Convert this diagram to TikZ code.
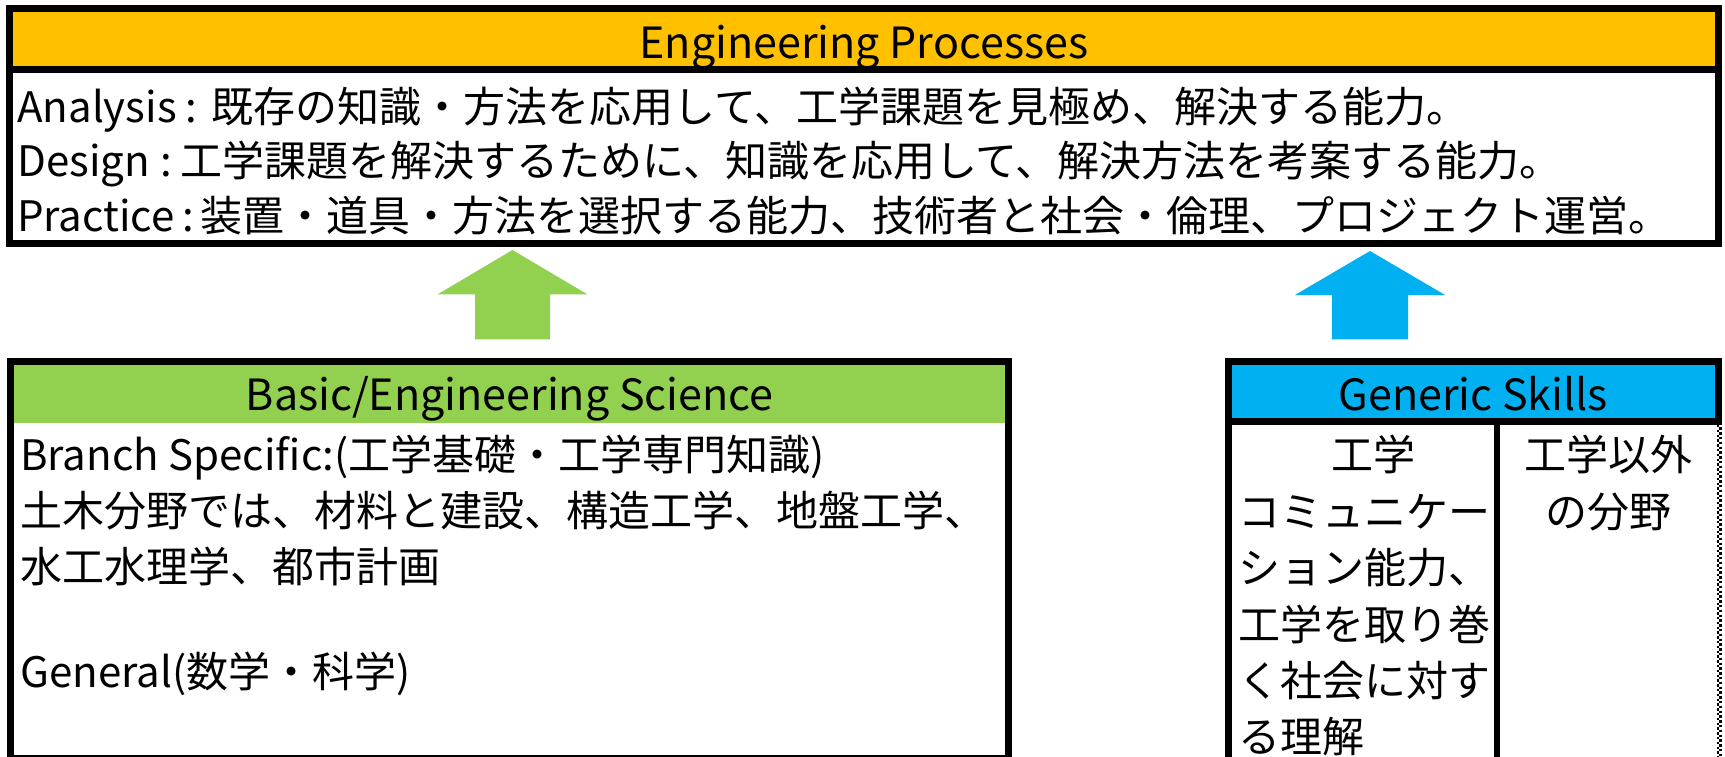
\documentclass[tikz,border=0pt]{standalone}
\usepackage{fontspec}
\setmainfont{Noto Sans CJK JP}
\newfontfamily\hdrfont{Noto Sans CJK JP}
\definecolor{epOrange}{HTML}{FFC000}
\definecolor{bsGreen}{HTML}{92D050}
\definecolor{gsBlue}{HTML}{00B0F0}
\tikzset{
  frame/.style={draw=black, line width=6.7pt},
  sepline/.style={draw=black, line width=6.7pt, line cap=rect},
  hdrtext/.style={anchor=base, inner sep=0pt, font=\hdrfont\fontsize{43}{50}\selectfont},
  toptext/.style={anchor=base west, inner sep=0pt, font=\fontsize{42}{54}\selectfont},
  bodytext/.style={anchor=base west, inner sep=0pt, font=\fontsize{42}{56}\selectfont},
  colctext/.style={anchor=base, inner sep=0pt, font=\fontsize{42}{56}\selectfont},
}
\begin{document}
\begin{tikzpicture}[x=1pt,y=-1pt]
\clip (0,0) rectangle (1725,757);
\fill[white] (0,0) rectangle (1725,757);
% ---------- Engineering Processes ----------
\fill[epOrange] (9.5,8.3) rectangle (1718.3,69.3);
\coordinate (epNW) at (9.5,8.3);
\coordinate (epSE) at (1718.3,243.3);
\draw[frame] (epNW) rectangle (epSE);
\draw[sepline] (9.5,69.3) -- (1718.3,69.3);
\node[hdrtext] (epTitle) at (863.9,59) {Engineering Processes};
\node[toptext] (epA) at (17,123) {Analysis\hspace{.2em}:\hspace{.35em}既存の知識・方法を応用して、工学課題を見極め、解決する能力。};
\node[toptext] (epD) at (17,177) {Design\hspace{.25em}:\hspace{.2em}工学課題を解決するために、知識を応用して、解決方法を考案する能力。};
\node[toptext] (epP) at (17,231) {Practice\hspace{.2em}:\hspace{.15em}装置・道具・方法を選択する能力、技術者と社会・倫理、プロジェクト運営。};
% ---------- arrows ----------
\coordinate (gTip) at (512.5,250);
\fill[bsGreen] (gTip) -- (587.3,294.3) -- (550,294.3) -- (550,339.3) -- (475,339.3) -- (475,294.3) -- (437.7,294.3) -- cycle;
\coordinate (bTip) at (1370,251);
\fill[gsBlue] (bTip) -- (1445,295) -- (1408,295) -- (1408,339.3) -- (1332,339.3) -- (1332,295) -- (1295,295) -- cycle;
% ---------- Basic / Engineering Science ----------
\fill[bsGreen] (10.7,361.5) rectangle (1008.3,423);
\draw[frame] (10.7,361.5) rectangle (1008.3,758.4);
\node[hdrtext] (bsTitle) at (509.5,410) {Basic/Engineering Science};
\node[bodytext] (bs1) at (20,470) {Branch Specific:(工学基礎・工学専門知識)};
\node[bodytext] (bs2) at (20,526) {土木分野では、材料と建設、構造工学、地盤工学、};
\node[bodytext] (bs3) at (20,582) {水工水理学、都市計画};
\node[bodytext] (bs4) at (20,687) {General(数学・科学)};
% ---------- Generic Skills ----------
\fill[gsBlue] (1228.3,361.7) rectangle (1718.3,421.7);
\draw[frame, line join=miter] (1228.3,765) -- (1228.3,361.7) -- (1718.3,361.7) -- (1718.3,421.7);
\draw[sepline] (1228.3,421.7) -- (1718.3,421.7);
\draw[draw=black, line width=6pt] (1497,421.7) -- (1497,765);
\draw[line width=2.4pt, dash pattern=on 2.4pt off 2.4pt] (1718.1,425) -- (1718.1,757);
\draw[line width=2.4pt, dash pattern=on 2.4pt off 2.4pt, dash phase=2.4pt] (1720.5,425) -- (1720.5,757);
\node[hdrtext] (gsTitle) at (1473.3,410) {Generic Skills};
\node[bodytext] (gsA1) at (1331,470) {工学};
\node[bodytext] (gsA2) at (1238,527) {コミュニケー};
\node[bodytext] (gsA3) at (1238,583) {ション能力、};
\node[bodytext] (gsA4) at (1238,640) {工学を取り巻};
\node[bodytext] (gsA5) at (1238,696) {く社会に対す};
\node[bodytext] (gsA6) at (1238,752) {る理解};
\node[colctext] (gsB1) at (1608.5,470) {工学以外};
\node[colctext] (gsB2) at (1608.5,527) {の分野};
\end{tikzpicture}
\end{document}
